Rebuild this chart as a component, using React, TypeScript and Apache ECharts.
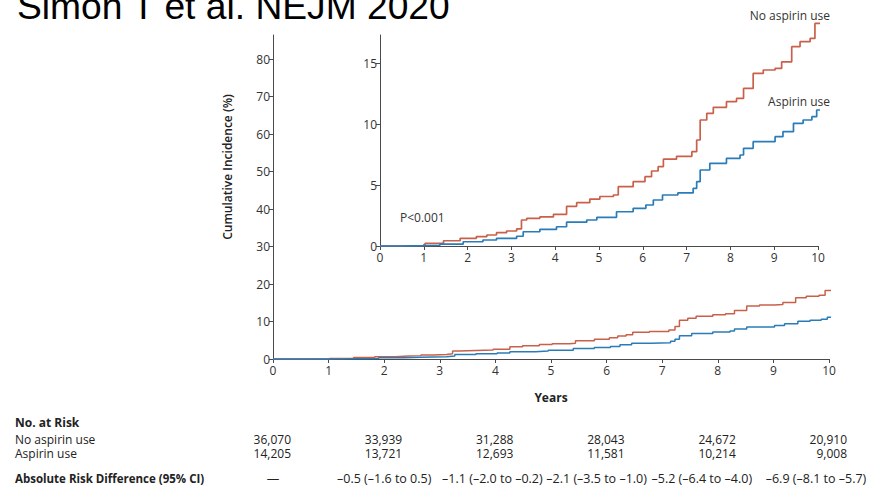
import React, { useEffect, useRef } from "react";
import * as echarts from "echarts";

// Cumulative incidence (%) step curves: [years, percent]
const noAspirinUse: [number, number][] = [
  [0, 0], [0.45, 0.04], [1.0, 0.12], [1.03, 0.22], [1.45, 0.43], [1.83, 0.63], [2.2, 0.77],
  [2.44, 0.9], [2.66, 1.09], [2.89, 1.23], [3.12, 1.4], [3.23, 2.13], [3.35, 2.27], [3.65, 2.38],
  [3.96, 2.6], [4.26, 3.25], [4.49, 3.55], [4.79, 3.85], [5.02, 4.06], [5.33, 4.18], [5.44, 4.86],
  [5.78, 5.27], [6.05, 5.68], [6.2, 6.15], [6.35, 6.5], [6.47, 7.12], [6.77, 7.35], [7.12, 7.73],
  [7.23, 8.69], [7.31, 10.33], [7.46, 10.88], [7.61, 11.37], [7.91, 11.83], [8.14, 12.1],
  [8.3, 12.92], [8.52, 14.15], [8.75, 14.43], [9.02, 14.56], [9.17, 15.1], [9.4, 16.34],
  [9.59, 16.75], [9.82, 17.02], [9.93, 18.25], [10.08, 18.25],
];
const aspirinUse: [number, number][] = [
  [0, 0], [0.5, 0.03], [1.0, 0.06], [1.37, 0.16], [1.9, 0.35], [2.35, 0.49], [2.66, 0.63],
  [3.12, 0.8], [3.27, 1.17], [3.65, 1.37], [4.03, 1.58], [4.26, 1.95], [4.72, 2.13], [4.95, 2.35],
  [5.4, 2.81], [5.78, 3.09], [6.07, 3.36], [6.24, 3.77], [6.45, 4.18], [6.8, 4.35], [7.15, 4.73],
  [7.23, 5.27], [7.31, 6.23], [7.53, 6.78], [7.91, 7.19], [8.22, 7.46], [8.3, 8.01], [8.52, 8.55],
  [9.02, 8.96], [9.2, 9.37], [9.44, 10.06], [9.66, 10.33], [9.86, 10.6], [9.97, 11.15],
  [10.08, 11.15],
];

const xTicks = [0, 1, 2, 3, 4, 5, 6, 7, 8, 9, 10];
const mainYTicks = [0, 10, 20, 30, 40, 50, 60, 70, 80];
const insetYTicks = [0, 5, 10, 15];

const riskYears = [0, 2, 4, 6, 8, 10];
const atRiskNoAspirin = ["36,070", "33,939", "31,288", "28,043", "24,672", "20,910"];
const atRiskAspirin = ["14,205", "13,721", "12,693", "11,581", "10,214", "9,008"];
const riskDifference = [
  "—",
  "–0.5 (–1.6 to 0.5)",
  "–1.1 (–2.0 to –0.2)",
  "–2.1 (–3.5 to –1.0)",
  "–5.2 (–6.4 to –4.0)",
  "–6.9 (–8.1 to –5.7)",
];

const RED = "#c9604a";
const BLUE = "#2a7cb8";
const AXIS = "#4a4a4a";
const FONT = "'Open Sans', 'Noto Sans', sans-serif";

function axisX(gridIndex: number) {
  return {
    type: "value",
    gridIndex,
    min: 0,
    max: 10,
    interval: 1,
    axisLine: { show: true, lineStyle: { color: AXIS, width: 1 } },
    axisTick: { show: true, length: 4, lineStyle: { color: AXIS } },
    axisLabel: { color: "#333", fontSize: 12, fontFamily: FONT, margin: 5, customValues: xTicks },
    splitLine: { show: false },
  };
}

function axisY(gridIndex: number, max: number, ticks: number[]) {
  return {
    type: "value",
    gridIndex,
    min: 0,
    max,
    axisLine: { show: true, lineStyle: { color: AXIS, width: 1 } },
    axisTick: { show: true, length: 4, lineStyle: { color: AXIS }, customValues: ticks },
    axisLabel: { color: "#333", fontSize: 12, fontFamily: FONT, margin: 3, customValues: ticks },
    splitLine: { show: false },
  };
}

function stepSeries(name: string, data: [number, number][], color: string, idx: number, width: number) {
  return {
    type: "line",
    name,
    xAxisIndex: idx,
    yAxisIndex: idx,
    data,
    step: "end",
    symbol: "none",
    clip: false,
    lineStyle: { color, width },
    silent: true,
  };
}

export default function App() {
  const ref = useRef<HTMLDivElement>(null);
  useEffect(() => {
    if (!ref.current) return;
    const chart = echarts.init(ref.current, undefined, { renderer: "svg" });
    chart.setOption({
      animation: false,
      backgroundColor: "#ffffff",
      textStyle: { fontFamily: FONT },
      grid: [
        { left: 273, right: 44, top: 35, bottom: 126 },
        { left: 380, right: 55, top: 35, bottom: 239 },
      ],
      xAxis: [axisX(0), axisX(1)],
      yAxis: [axisY(0, 86.4, mainYTicks), axisY(1, 17.3, insetYTicks)],
      series: [
        stepSeries("No aspirin use", noAspirinUse, RED, 0, 1.5),
        stepSeries("Aspirin use", aspirinUse, BLUE, 0, 1.5),
        stepSeries("No aspirin use", noAspirinUse, RED, 1, 1.7),
        stepSeries("Aspirin use", aspirinUse, BLUE, 1, 1.7),
      ],
    });

    const px = (yr: number) => chart.convertToPixel({ gridIndex: 0 }, [yr, 0])[0];
    const txt = (text: string, x: number, y: number, opts: any = {}) => ({
      type: "text",
      x,
      y,
      silent: true,
      style: {
        text,
        fill: opts.fill || "#222",
        fontSize: opts.fontSize || 12,
        fontWeight: opts.fontWeight || "normal",
        fontFamily: opts.fontFamily || FONT,
        align: opts.align || "left",
        verticalAlign: "middle",
        lineHeight: opts.lineHeight || undefined,
      },
      rotation: opts.rotation || 0,
    });

    const g: any[] = [
      txt("Simon T et al. NEJM 2020", 17, 6, { fontSize: 37.2, fontFamily: "'Liberation Sans', Arial, sans-serif", fill: "#000" }),
      txt("Cumulative Incidence (%)", 227, 167, { fontWeight: 600, fontSize: 12, align: "center", rotation: Math.PI / 2 }),
      txt("Years", 551, 397, { fontWeight: "bold", fontSize: 12, align: "center" }),
      txt("P<0.001", 400, 217, { fontSize: 12, fill: "#333" }),
      txt("No aspirin use", 830, 15, { fontSize: 12, align: "right", fill: "#333" }),
      txt("Aspirin use", 830, 101, { fontSize: 12, align: "right", fill: "#333" }),
      txt("No. at Risk", 15, 422, { fontWeight: "bold", fontSize: 12, lineHeight: 13 }),
      txt("No aspirin use", 15, 439, { fontSize: 12, lineHeight: 13 }),
      txt("Aspirin use", 15, 453, { fontSize: 12, lineHeight: 13 }),
      txt("Absolute Risk Difference (95% CI)", 15, 478, { fontWeight: "bold", fontSize: 11.5 }),
    ];
    const rdShift = [0, 0, -3, -10, -16, -13];
    riskYears.forEach((yr, i) => {
      const x = px(yr);
      g.push(txt(atRiskNoAspirin[i], x + 18, 439, { align: "right", lineHeight: 13 }));
      g.push(txt(atRiskAspirin[i], x + 18, 453, { align: "right", lineHeight: 13 }));
      g.push(txt(riskDifference[i], x + rdShift[i], 478, { align: "center", fontSize: 12.5 }));
    });
    chart.setOption({ graphic: g });

    return () => chart.dispose();
  }, []);
  return (
    <div
      ref={ref}
      style={{ position: "fixed", left: 0, top: 0, width: 873, height: 485, background: "#fff" }}
    />
  );
}
